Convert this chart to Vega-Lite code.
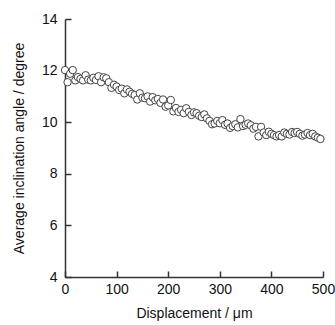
{
  "$schema": "https://vega.github.io/schema/vega-lite/v6.json",
  "autosize": {"type": "none"},
  "padding": {"left": 65, "top": 19, "right": 12, "bottom": 48},
  "width": 258,
  "height": 258,
  "background": "white",
  "config": {
    "view": {"stroke": null},
    "font": "Liberation Sans",
    "axis": {
      "domainColor": "#333",
      "domainWidth": 1.5,
      "tickColor": "#333",
      "tickWidth": 1.5,
      "grid": false,
      "labelFont": "Liberation Sans",
      "labelFontSize": 14,
      "labelColor": "#111",
      "titleFont": "Liberation Sans",
      "titleFontSize": 14,
      "titleFontWeight": "normal",
      "titleColor": "#111"
    }
  },
  "data": {"values": [
    {"x":0,"y":12.02},{"x":5,"y":11.55},{"x":10,"y":11.88},{"x":15,"y":12.02},{"x":20,"y":11.62},
    {"x":25,"y":11.75},{"x":30,"y":11.68},{"x":35,"y":11.62},{"x":40,"y":11.82},{"x":45,"y":11.65},
    {"x":50,"y":11.62},{"x":55,"y":11.72},{"x":60,"y":11.64},{"x":65,"y":11.78},{"x":70,"y":11.55},
    {"x":75,"y":11.74},{"x":80,"y":11.7},{"x":85,"y":11.55},{"x":90,"y":11.33},{"x":95,"y":11.45},
    {"x":100,"y":11.38},{"x":105,"y":11.25},{"x":110,"y":11.3},{"x":115,"y":11.12},{"x":120,"y":11.27},
    {"x":125,"y":11.18},{"x":130,"y":11.1},{"x":135,"y":11.05},{"x":140,"y":10.88},{"x":145,"y":11.12},
    {"x":150,"y":10.95},{"x":155,"y":10.93},{"x":160,"y":11.0},{"x":165,"y":10.8},{"x":170,"y":10.97},
    {"x":175,"y":10.85},{"x":180,"y":10.9},{"x":185,"y":10.75},{"x":190,"y":10.88},{"x":195,"y":10.6},
    {"x":200,"y":10.65},{"x":205,"y":10.86},{"x":210,"y":10.42},{"x":215,"y":10.55},{"x":220,"y":10.4},
    {"x":225,"y":10.48},{"x":230,"y":10.35},{"x":235,"y":10.54},{"x":240,"y":10.4},{"x":245,"y":10.28},
    {"x":250,"y":10.38},{"x":255,"y":10.35},{"x":260,"y":10.25},{"x":265,"y":10.2},{"x":270,"y":10.3},
    {"x":275,"y":10.15},{"x":280,"y":10.05},{"x":285,"y":9.92},{"x":290,"y":9.95},{"x":295,"y":10.05},
    {"x":300,"y":9.96},{"x":305,"y":10.08},{"x":310,"y":9.9},{"x":315,"y":9.95},{"x":320,"y":9.78},
    {"x":325,"y":9.85},{"x":330,"y":9.92},{"x":335,"y":9.8},{"x":340,"y":10.12},{"x":345,"y":9.85},
    {"x":350,"y":9.9},{"x":355,"y":9.95},{"x":360,"y":9.88},{"x":365,"y":9.75},{"x":370,"y":9.82},
    {"x":375,"y":9.45},{"x":380,"y":9.82},{"x":385,"y":9.6},{"x":390,"y":9.5},{"x":395,"y":9.63},
    {"x":400,"y":9.55},{"x":405,"y":9.5},{"x":410,"y":9.45},{"x":415,"y":9.5},{"x":420,"y":9.45},
    {"x":425,"y":9.6},{"x":430,"y":9.55},{"x":435,"y":9.52},{"x":440,"y":9.62},{"x":445,"y":9.58},
    {"x":450,"y":9.62},{"x":455,"y":9.55},{"x":460,"y":9.48},{"x":465,"y":9.52},{"x":470,"y":9.58},
    {"x":475,"y":9.5},{"x":480,"y":9.55},{"x":485,"y":9.45},{"x":490,"y":9.4},{"x":495,"y":9.35}
  ]},
  "layer": [
    {
      "mark": {"type": "point", "shape": "circle", "filled": false, "fill": "white", "fillOpacity": 1, "stroke": "#444", "strokeWidth": 1, "size": 55, "opacity": 1, "clip": false},
      "encoding": {
        "x": {
          "field": "x", "type": "quantitative",
          "scale": {"domain": [0, 500], "nice": false, "zero": false},
          "axis": {"orient": "bottom", "values": [0, 100, 200, 300, 400, 500], "title": "Displacement / μm", "ticks": false, "labelPadding": 5, "titlePadding": 10, "labelFlush": false}
        },
        "y": {
          "field": "y", "type": "quantitative",
          "scale": {"domain": [4, 14], "nice": false, "zero": false},
          "axis": {"orient": "left", "values": [4, 6, 8, 10, 12, 14], "title": "Average inclination angle / degree", "ticks": false, "labelPadding": 8, "titlePadding": 15, "labelFlush": false}
        }
      }
    },
    {
      "mark": {"type": "point", "opacity": 0},
      "encoding": {
        "x": {
          "field": "x", "type": "quantitative",
          "axis": {"orient": "bottom", "values": [0, 100, 200, 300, 400, 500], "title": null, "labels": false, "domain": false, "ticks": true, "tickSize": 6, "offset": -6}
        },
        "y": {
          "field": "y", "type": "quantitative",
          "axis": {"orient": "left", "values": [4, 6, 8, 10, 12, 14], "title": null, "labels": false, "domain": false, "ticks": true, "tickSize": 6, "offset": -6}
        }
      }
    }
  ],
  "resolve": {"axis": {"x": "independent", "y": "independent"}}
}
